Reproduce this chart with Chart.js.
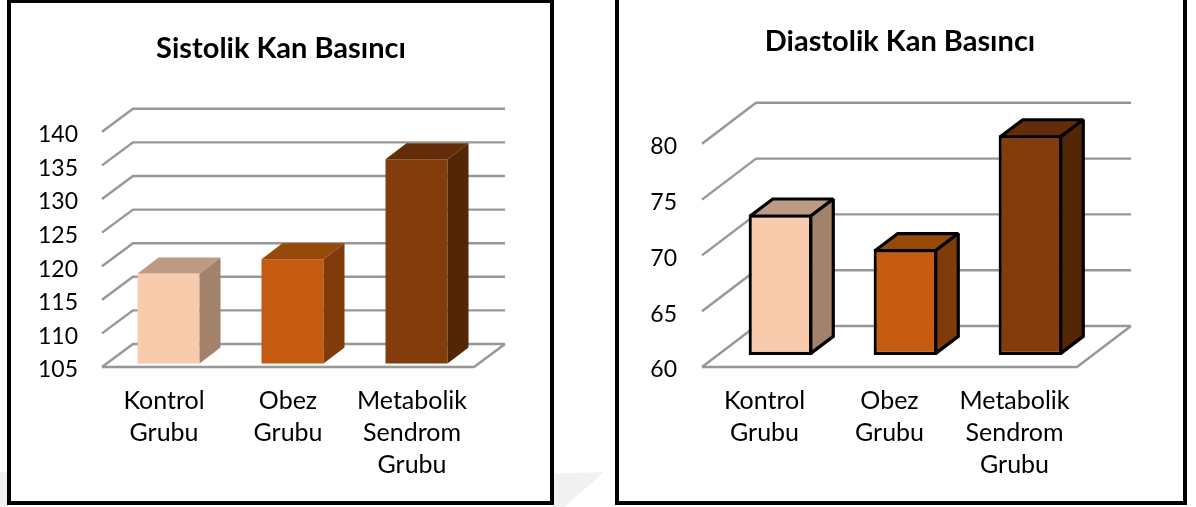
<!DOCTYPE html>
<html>
<head>
<meta charset="utf-8">
<title>Kan Basıncı</title>
<script src="https://cdn.jsdelivr.net/npm/chart.js@4/dist/chart.umd.min.js"></script>
<style>
  html, body { margin: 0; padding: 0; background: #fff; width: 1196px; height: 507px; overflow: hidden; }
  .mark { position: absolute; background: #f1f1f1; }
  #markA { left: 0; top: 472px; width: 8px; height: 35px; }
  #markB { left: 552px; top: 472px; width: 52px; height: 35px; clip-path: polygon(0 4%, 100% 0, 24% 100%, 0 100%); }
  .frame { position: absolute; box-sizing: border-box; background: #fff; border: 4px solid #000; }
  #frameLeft { left: 7px; top: 0; width: 547px; height: 505px; border-top-width: 3px; }
  #frameRight { left: 615px; top: -6px; width: 572px; height: 511px; }
  canvas { position: absolute; }
</style>
</head>
<body>
<div class="mark" id="markA"></div>
<div class="mark" id="markB"></div>
<div class="frame" id="frameLeft"></div>
<div class="frame" id="frameRight"></div>
<canvas id="sistolik" style="left:0;top:0"></canvas>
<canvas id="diastolik" style="left:598px;top:0"></canvas>
<script>
var categories = [["Kontrol", "Grubu"], ["Obez", "Grubu"], ["Metabolik", "Sendrom", "Grubu"]];
var sistolikValues = [118.4, 120.5, 135.4];
var diastolikValues = [72.6, 69.5, 79.7];

var frontColors = ['#F7CBAC', '#C55A11', '#843C0C'];
var topColors = ['#BC9A83', '#964909', '#642D09'];
var sideColors = ['#A3826C', '#803B0B', '#532606'];

// draws the floor, the walls and the sides of the bars, Chart.js only knows flat bars
var box3d = {
  id: 'box3d',
  afterLayout: function (chart, args, opts) {
    // title sits in the middle of the frame, not of the plot
    var block = chart.titleBlock;
    block.left = opts.titleCenter - block.width / 2;
    block.right = block.left + block.width;
  },
  beforeDatasetsDraw: function (chart, args, opts) {
    var ctx = chart.ctx;
    var y = chart.scales.y;
    var area = chart.chartArea;
    var bottom = area.bottom - opts.lift; // tick labels sit a bit below their lines
    ctx.save();
    ctx.strokeStyle = '#979797';
    ctx.lineWidth = 2.4;
    y.ticks.forEach(function (tick) {
      var py = y.getPixelForValue(tick.value) - opts.lift;
      ctx.beginPath();
      ctx.moveTo(area.left, py);
      ctx.lineTo(area.left + opts.floorDx, py - opts.floorDy);
      ctx.lineTo(area.right + opts.floorDx, py - opts.floorDy);
      ctx.stroke();
    });
    // front and right edge of the floor
    ctx.beginPath();
    ctx.moveTo(area.left, bottom);
    ctx.lineTo(area.right, bottom);
    ctx.lineTo(area.right + opts.floorDx, bottom - opts.floorDy);
    ctx.stroke();
    ctx.restore();

    // bars stand in the middle of the floor
    ctx.save();
    ctx.translate(opts.shiftX, -opts.shiftY);
  },
  afterDatasetsDraw: function (chart, args, opts) {
    var ctx = chart.ctx;
    var bars = chart.getDatasetMeta(0).data;
    ctx.lineJoin = 'miter';
    ctx.miterLimit = 1.5;
    bars.forEach(function (bar, i) {
      var half = bar.width / 2;
      var l = bar.x - half, r = bar.x + half, t = bar.y, b = bar.base;
      var inset = opts.outline / 2;
      l += inset; r -= inset; t += inset; b -= inset;

      ctx.fillStyle = topColors[i];
      ctx.beginPath();
      ctx.moveTo(l, t);
      ctx.lineTo(l + opts.barDx, t - opts.barDy);
      ctx.lineTo(r + opts.barDx, t - opts.barDy);
      ctx.lineTo(r, t);
      ctx.closePath();
      ctx.fill();
      if (opts.outline) { ctx.lineWidth = opts.outline; ctx.strokeStyle = '#000'; ctx.stroke(); }

      ctx.fillStyle = sideColors[i];
      ctx.beginPath();
      ctx.moveTo(r, t);
      ctx.lineTo(r + opts.barDx, t - opts.barDy);
      ctx.lineTo(r + opts.barDx, b - opts.barDy);
      ctx.lineTo(r, b);
      ctx.closePath();
      ctx.fill();
      if (opts.outline) { ctx.stroke(); }
    });
    ctx.restore();
  }
};

function makeChart(id, width, title, values, yMin, yMax, o) {
  var canvas = document.getElementById(id);
  canvas.width = width;
  canvas.height = 507;
  canvas.style.width = width + 'px';
  canvas.style.height = '507px';
  return new Chart(canvas.getContext('2d'), {
    type: 'bar',
    data: {
      labels: categories,
      datasets: [{
        data: values,
        base: yMin,
        backgroundColor: frontColors,
        borderColor: '#000',
        borderWidth: o.outline,
        borderSkipped: false,
        barPercentage: o.barPercentage,
        categoryPercentage: 1,
        clip: false
      }]
    },
    options: {
      responsive: false,
      animation: false,
      layout: { padding: { left: o.padLeft, right: o.padRight, top: 0, bottom: 0 } },
      plugins: {
        legend: { display: false },
        tooltip: { enabled: false },
        title: {
          display: true,
          text: title,
          color: '#000',
          font: { family: 'Lato', size: 29, weight: 'bold', lineHeight: 1.2 },
          padding: { top: o.titleTop, bottom: o.titleBottom }
        },
        box3d: o
      },
      scales: {
        x: {
          grid: { display: false, drawTicks: false },
          border: { display: false },
          ticks: {
            color: '#000',
            padding: 15,
            maxRotation: 0,
            autoSkip: false,
            font: { family: 'Lato', size: 25, lineHeight: 1.28 }
          },
          afterFit: function (scale) { scale.height = 137; }
        },
        y: {
          min: yMin,
          max: yMax,
          grid: { display: false, drawTicks: false },
          border: { display: false },
          ticks: {
            stepSize: 5,
            color: '#000',
            padding: o.tickPad,
            font: { family: 'Lato', size: 23 }
          },
          afterFit: function (scale) { scale.width = o.axisWidth; }
        }
      }
    },
    plugins: [box3d]
  });
}

makeChart('sistolik', 598, 'Sistolik Kan Basıncı', sistolikValues, 105, 140, {
  padLeft: 0, padRight: 124, axisWidth: 102, tickPad: 24,
  titleTop: 31, titleBottom: 69, titleCenter: 281, lift: 3,
  floorDx: 31, floorDy: 23, barDx: 21, barDy: 16, shiftX: 4.5, shiftY: 6.5,
  outline: 0, barPercentage: 0.5
});

makeChart('diastolik', 598, 'Diastolik Kan Basıncı', diastolikValues, 60, 80, {
  padLeft: 0, padRight: 119, axisWidth: 104, tickPad: 25,
  titleTop: 24, titleBottom: 88, titleCenter: 302, lift: 3,
  floorDx: 54, floorDy: 41, barDx: 22.5, barDy: 17, shiftX: 16, shiftY: 15,
  outline: 3.2, barPercentage: 0.51
});
</script>
</body>
</html>
